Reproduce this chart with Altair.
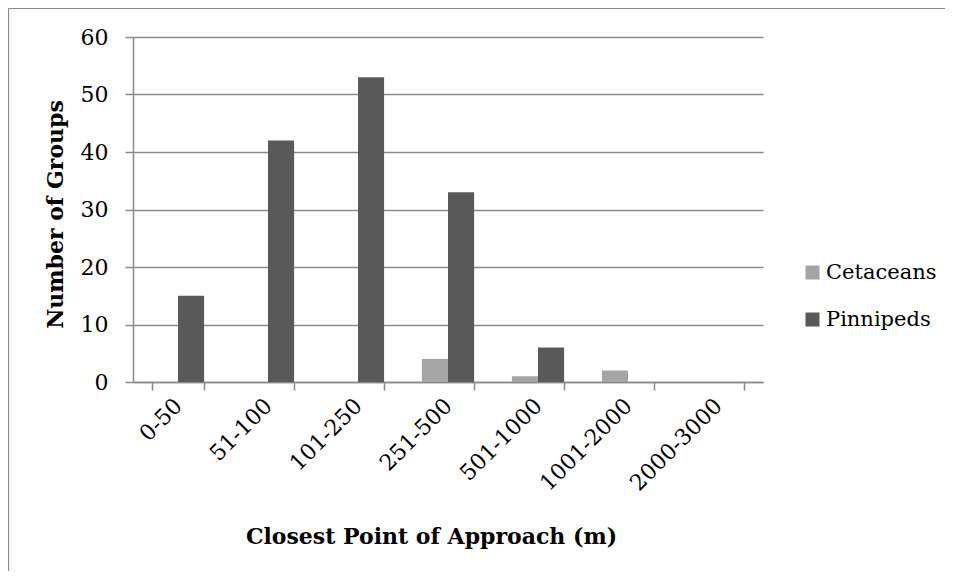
import altair as alt
import pandas as pd

categories = ["0-50", "51-100", "101-250", "251-500", "501-1000", "1001-2000", "2000-3000"]
cetaceans = [0, 0, 0, 4, 1, 2, 0]
pinnipeds = [15, 42, 53, 33, 6, 0, 0]
series_names = ["Cetaceans", "Pinnipeds"]
series_colors = ["#a5a5a5", "#595959"]
y_ticks = [0, 10, 20, 30, 40, 50, 60]

rows = []
for c, ce, pi in zip(categories, cetaceans, pinnipeds):
    rows.append({"CPA": c, "Series": "Cetaceans", "Groups": ce})
    rows.append({"CPA": c, "Series": "Pinnipeds", "Groups": pi})
df = pd.DataFrame(rows)

FONT = "DejaVu Serif"
GRAY = "#8a8a8a"

bars = alt.Chart(df).mark_bar().encode(
    x=alt.X("CPA:N", sort=categories,
            scale=alt.Scale(paddingInner=0.42, paddingOuter=0.21),
            axis=alt.Axis(title="Closest Point of Approach (m)", labelAngle=-45,
                          labelAlign="right", labelBaseline="middle",
                          tickBand="extent", tickSize=8, labelPadding=12,
                          titleX=298, titleY=161, titleBaseline="alphabetic",
                          titleAnchor="start", titleAlign="center")),
    xOffset=alt.XOffset("Series:N", sort=series_names, scale=alt.Scale(paddingInner=0, paddingOuter=0)),
    y=alt.Y("Groups:Q", scale=alt.Scale(domain=[0, 60], nice=False),
            axis=alt.Axis(title="Number of Groups", values=y_ticks, tickSize=8,
                          labelPadding=17, titleX=-71, titleY=177,
                          titleAngle=270, titleBaseline="alphabetic",
                          titleAlign="center", titleAnchor="start")),
    color=alt.Color("Series:N", sort=series_names,
                    scale=alt.Scale(domain=series_names, range=series_colors),
                    legend=alt.Legend(title=None, orient="none", legendX=669, legendY=225,
                                      symbolType="square", symbolSize=196,
                                      symbolStrokeWidth=0, rowPadding=25,
                                      labelFontSize=21, labelFont=FONT,
                                      labelColor="#000000", labelOffset=3)),
)

one = pd.DataFrame({"a": [0]})
frame_top = alt.Chart(one).mark_rule(color=GRAY, strokeWidth=1.2).encode(
    x=alt.value(-124.5), x2=alt.value(812), y=alt.value(-28.5)
)
frame_left = alt.Chart(one).mark_rule(color=GRAY, strokeWidth=1.2).encode(
    x=alt.value(-124.5), y=alt.value(-28.5), y2=alt.value(534)
)

chart = alt.layer(bars, frame_top, frame_left).properties(
    width=630, height=345,
    autosize=alt.AutoSizeParams(type="none"),
    padding={"left": 125, "top": 29, "right": 182, "bottom": 189},
).configure_view(stroke=None).configure_axis(
    labelFont=FONT, labelFontSize=22, labelColor="#000000",
    titleFont=FONT, titleFontSize=22, titleFontWeight="bold", titleColor="#000000",
    domainColor=GRAY, domainWidth=1.5, tickColor=GRAY, tickWidth=1.5,
    gridColor=GRAY, gridWidth=1.5,
).configure_axisX(grid=False).configure_axisY(grid=True)

chart.save("out.html", embed_options={"renderer": "svg", "actions": False})
